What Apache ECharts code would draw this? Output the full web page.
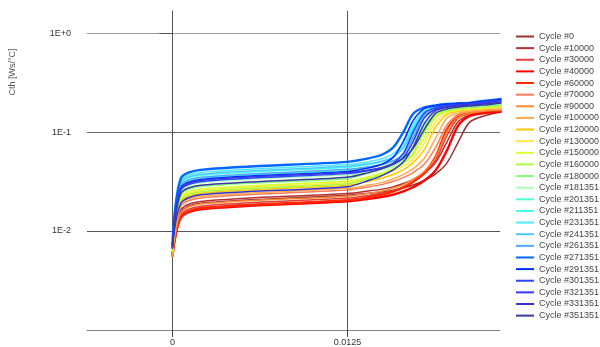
<!DOCTYPE html>
<html>
<head>
<meta charset="utf-8">
<script src="https://cdn.jsdelivr.net/npm/echarts@6/dist/echarts.min.js"></script>
<style>
  html, body { margin: 0; padding: 0; background: #fff; }
  #chart { width: 600px; height: 347px; }
</style>
</head>
<body>
<div id="chart"></div>
<script>
// shared x positions (time axis of the curves)
const xValues = [0, 0.0006, 0.002, 0.0125, 0.014, 0.015, 0.0158, 0.0165, 0.0172, 0.018, 0.0188, 0.0196, 0.0204, 0.0212, 0.0222, 0.0235];

const xTicks = [0, 0.0125];
const yTicks = [0.01, 0.1, 1];

const cycleNames = ['Cycle #0', 'Cycle #10000', 'Cycle #30000', 'Cycle #40000', 'Cycle #60000', 'Cycle #70000',
  'Cycle #90000', 'Cycle #100000', 'Cycle #120000', 'Cycle #130000', 'Cycle #150000', 'Cycle #160000',
  'Cycle #180000', 'Cycle #181351', 'Cycle #201351', 'Cycle #211351', 'Cycle #231351', 'Cycle #241351',
  'Cycle #261351', 'Cycle #271351', 'Cycle #291351', 'Cycle #301351', 'Cycle #321351', 'Cycle #331351',
  'Cycle #351351'];

const cycleColors = ['#9b3030', '#b83030', '#e04040', '#ff0000', '#ff2800', '#ff7a5a',
  '#ff8a30', '#ffaa50', '#ffc800', '#ffe840', '#d8ff30', '#a8ff40',
  '#80ff70', '#a8ffb8', '#50ffd0', '#40ffe8', '#50e8ff', '#50c8ff',
  '#50a8ff', '#0068ff', '#0030ff', '#2848ff', '#3838f0', '#3434c8',
  '#3a3aa0'];

const cth_0      = [0.0058, 0.0156, 0.0191, 0.023, 0.0241, 0.0249, 0.0258, 0.0272, 0.0292, 0.0325, 0.0378, 0.0485, 0.0783, 0.1245, 0.1445, 0.16];
const cth_10000  = [0.006, 0.0163, 0.0199, 0.024, 0.0254, 0.0265, 0.0281, 0.0302, 0.0333, 0.0386, 0.0492, 0.0789, 0.127, 0.148, 0.156, 0.168];
const cth_30000  = [0.0057, 0.0146, 0.0178, 0.0215, 0.0229, 0.0242, 0.0256, 0.028, 0.0315, 0.0378, 0.0514, 0.0916, 0.138, 0.153, 0.16, 0.165];
const cth_40000  = [0.0056, 0.0136, 0.0166, 0.020, 0.0211, 0.0221, 0.0234, 0.0252, 0.0277, 0.0324, 0.041, 0.0647, 0.1156, 0.145, 0.155, 0.16];
const cth_60000  = [0.0055, 0.0139, 0.017, 0.0205, 0.022, 0.0234, 0.0252, 0.0275, 0.0315, 0.0389, 0.0561, 0.105, 0.1426, 0.155, 0.161, 0.165];
const cth_70000  = [0.0055, 0.0177, 0.0216, 0.026, 0.0279, 0.0296, 0.0318, 0.0346, 0.0389, 0.0475, 0.0695, 0.117, 0.15, 0.16, 0.1655, 0.1695];
const cth_90000  = [0.0054, 0.0153, 0.0187, 0.0225, 0.024, 0.0254, 0.0272, 0.0294, 0.0332, 0.0401, 0.0553, 0.1, 0.141, 0.155, 0.1625, 0.1667];
const cth_100000 = [0.0056, 0.0184, 0.0224, 0.027, 0.0291, 0.031, 0.0337, 0.0373, 0.0426, 0.0543, 0.0863, 0.1374, 0.155, 0.162, 0.1667, 0.17];
const cth_120000 = [0.006, 0.0197, 0.0241, 0.029, 0.0317, 0.0343, 0.0374, 0.0417, 0.0491, 0.0667, 0.1117, 0.15, 0.162, 0.168, 0.172, 0.178];
const cth_130000 = [0.0062, 0.0211, 0.0257, 0.031, 0.0341, 0.0369, 0.0405, 0.0454, 0.0535, 0.0773, 0.1253, 0.157, 0.166, 0.1706, 0.174, 0.18];
const cth_150000 = [0.0063, 0.0218, 0.0266, 0.032, 0.0354, 0.0385, 0.0428, 0.0484, 0.0587, 0.0879, 0.141, 0.161, 0.169, 0.174, 0.177, 0.185];
const cth_160000 = [0.0064, 0.0204, 0.0249, 0.030, 0.0337, 0.0371, 0.0418, 0.0485, 0.0618, 0.1, 0.148, 0.165, 0.172, 0.176, 0.179, 0.186];
const cth_180000 = [0.0065, 0.0231, 0.0282, 0.034, 0.0383, 0.0422, 0.047, 0.0547, 0.0703, 0.1127, 0.155, 0.169, 0.175, 0.179, 0.182, 0.19];
const cth_181351 = [0.0066, 0.0252, 0.0307, 0.037, 0.0391, 0.0415, 0.045, 0.0518, 0.0736, 0.1276, 0.163, 0.173, 0.178, 0.1815, 0.184, 0.195];
const cth_201351 = [0.0068, 0.0279, 0.034, 0.041, 0.0436, 0.0466, 0.0512, 0.0577, 0.0935, 0.148, 0.168, 0.177, 0.182, 0.185, 0.188, 0.2];
const cth_211351 = [0.007, 0.0299, 0.0365, 0.044, 0.0469, 0.0504, 0.0561, 0.0728, 0.1135, 0.159, 0.174, 0.181, 0.185, 0.1875, 0.191, 0.2];
const cth_231351 = [0.0071, 0.032, 0.039, 0.047, 0.0502, 0.054, 0.0608, 0.0792, 0.1213, 0.164, 0.1775, 0.1837, 0.1875, 0.19, 0.195, 0.205];
const cth_241351 = [0.007, 0.0306, 0.0374, 0.045, 0.0479, 0.051, 0.0565, 0.0692, 0.1067, 0.157, 0.174, 0.182, 0.1866, 0.19, 0.195, 0.205];
const cth_261351 = [0.007, 0.0286, 0.0349, 0.042, 0.0445, 0.0472, 0.0514, 0.0605, 0.0877, 0.148, 0.172, 0.182, 0.188, 0.191, 0.197, 0.21];
const cth_271351 = [0.0072, 0.034, 0.0415, 0.05, 0.0542, 0.0593, 0.0706, 0.1, 0.153, 0.177, 0.186, 0.192, 0.195, 0.197, 0.206, 0.216];
const cth_291351 = [0.0069, 0.0272, 0.0332, 0.04, 0.0434, 0.0475, 0.0561, 0.0807, 0.131, 0.172, 0.184, 0.1905, 0.1945, 0.197, 0.204, 0.215];
const cth_301351 = [0.0068, 0.0258, 0.0315, 0.038, 0.0406, 0.0437, 0.0489, 0.0612, 0.1, 0.156, 0.1766, 0.1854, 0.1905, 0.1936, 0.2, 0.21];
const cth_321351 = [0.0068, 0.0265, 0.0324, 0.039, 0.0413, 0.0439, 0.0479, 0.0557, 0.0805, 0.1388, 0.17, 0.181, 0.187, 0.19, 0.196, 0.208];
const cth_331351 = [0.0066, 0.019, 0.0232, 0.028, 0.0324, 0.0365, 0.0418, 0.05, 0.0705, 0.1213, 0.164, 0.1775, 0.1837, 0.1875, 0.192, 0.2];
const cth_351351 = [0.0067, 0.0238, 0.029, 0.035, 0.0389, 0.0428, 0.0475, 0.0546, 0.0684, 0.1064, 0.1545, 0.171, 0.178, 0.183, 0.187, 0.197];

const cycleValues = [cth_0, cth_10000, cth_30000, cth_40000, cth_60000, cth_70000, cth_90000, cth_100000,
  cth_120000, cth_130000, cth_150000, cth_160000, cth_180000, cth_181351, cth_201351, cth_211351,
  cth_231351, cth_241351, cth_261351, cth_271351, cth_291351, cth_301351, cth_321351, cth_331351, cth_351351];

// a few curves are drawn heavier in the legend
const thickNames = ['Cycle #40000', 'Cycle #60000', 'Cycle #271351'];

const font = 'Liberation Sans, Arial, sans-serif';

const series = cycleNames.map((name, i) => ({
  name: name,
  type: 'line',
  symbol: 'none',
  smooth: 0.3,
  color: cycleColors[i],
  lineStyle: { width: thickNames.indexOf(name) >= 0 ? 2.4 : 1.5, color: cycleColors[i] },
  data: xValues.map((x, j) => [x, cycleValues[i][j]])
}))

const option = {
  animation: false,
  backgroundColor: '#fff',
  grid: { left: 87, right: 100, top: 11, bottom: 17, containLabel: false },
  legend: {
    orient: 'vertical',
    left: 515,
    top: 32,
    padding: 0,
    itemWidth: 18,
    itemHeight: 9,
    itemGap: 2.63,
    itemStyle: { opacity: 0 },
    textStyle: { fontSize: 9, color: '#444', fontFamily: font },
    data: cycleNames
  },
  graphic: [{
    type: 'text',
    x: 13,
    y: 72,
    rotation: Math.PI / 2,
    style: {
      text: 'Cth [Ws/°C]',
      fontSize: 9,
      fontFamily: font,
      fill: '#555',
      align: 'center',
      verticalAlign: 'middle'
    }
  }],
  xAxis: {
    type: 'value',
    min: -0.0061,
    max: 0.0234,
    axisLine: { show: true, lineStyle: { color: '#888', width: 1 } },
    axisTick: { show: true, length: 7, customValues: xTicks, lineStyle: { color: '#444' } },
    axisLabel: { customValues: xTicks, margin: 8, fontSize: 9, color: '#333', fontFamily: font },
    splitLine: { show: true, lineStyle: { color: '#555', width: 1 } }
  },
  yAxis: {
    type: 'log',
    logBase: 10,
    min: 0.001,
    max: 1.67,
    axisLine: { show: true, lineStyle: { color: '#555', width: 1 } },
    axisTick: { show: true, length: 13, customValues: yTicks, lineStyle: { color: '#555' } },
    axisLabel: {
      customValues: yTicks,
      margin: 16,
      fontSize: 9,
      color: '#333',
      fontFamily: font,
      formatter: v => {
        const e = Math.round(Math.log10(v))
        return '1E' + (e >= 0 ? '+' : '') + e
      }
    },
    splitLine: { show: true, lineStyle: { color: ['#555', '#666', '#999'], width: 1 } }
  },
  series: series
}

const chart = echarts.init(document.getElementById('chart'), null, { renderer: 'canvas' })
chart.setOption(option)
</script>
</body>
</html>
